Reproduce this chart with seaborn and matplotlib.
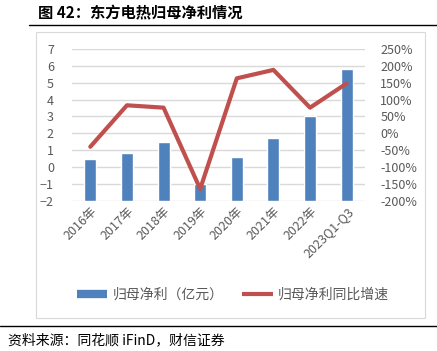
import matplotlib.pyplot as plt
import seaborn as sns
from matplotlib.lines import Line2D
from matplotlib.patches import Rectangle
from matplotlib.ticker import FuncFormatter

# 数据
years = ['2016年', '2017年', '2018年', '2019年', '2020年', '2021年', '2022年', '2023Q1-Q3']
profit = [0.46, 0.81, 1.46, -1.0, 0.58, 1.74, 3.04, 5.83]      # 归母净利（亿元）
growth = [-40, 83, 76, -165, 163, 188, 76, 148]                # 同比增速 %

sns.set_theme(style='white')
plt.rcParams['font.family'] = ['Noto Sans CJK SC', 'DejaVu Sans']

blue = '#4F81BD'
red = '#C0504D'
gray = '#595959'

W, H = 437, 351
fig = plt.figure(figsize=(W / 100, H / 100), dpi=100)

def fx(px):
    return px / W

def fy(py):
    return 1 - py / H

# 标题和线
fig.text(fx(38), fy(13), '图 42：东方电热归母净利情况', fontsize=11, fontweight='bold',
         va='center', ha='left', color='black')
fig.add_artist(Line2D([fx(29), 1], [fy(24.5), fy(24.5)], color='black', lw=1.0))
fig.add_artist(Rectangle((fx(36), fy(318)), fx(425) - fx(36), fy(32) - fy(318),
                         transform=fig.transFigure, fill=False, ec='#D9D9D9', lw=0.8))
fig.add_artist(Line2D([0, 1], [fy(326), fy(326)], color='black', lw=1.0))
fig.text(fx(8), fy(340), '资料来源：同花顺 iFinD，财信证券', fontsize=10, style='italic',
         va='center', ha='left', color='black')

ax = fig.add_axes([fx(72), fy(200.7), fx(365) - fx(72), fy(49) - fy(200.7)])
sns.barplot(x=years, y=profit, color=blue, width=0.33, ax=ax, saturation=1)
# 柱子从 -2 起画（横轴交叉点）
for p in ax.patches:
    top = p.get_y() + p.get_height()
    p.set_y(-2)
    p.set_height(top + 2)
ax.set_ylim(-2, 7)
ax.set_yticks(range(-2, 8))
ax.set_xlim(-0.5, 7.5)
ax.grid(axis='y', color='#D9D9D9', lw=1)
ax.set_axisbelow(True)
for s in ax.spines.values():
    s.set_visible(False)
ax.tick_params(axis='y', labelsize=9, labelcolor=gray, length=0, pad=13)
ax.tick_params(axis='x', labelsize=9, labelcolor=gray, length=0, pad=3)
plt.setp(ax.get_xticklabels(), rotation=45, ha='right', rotation_mode='anchor')
ax.set_xlabel('')
ax.set_ylabel('')

ax2 = ax.twinx()
sns.lineplot(x=list(range(len(years))), y=growth, color=red, lw=3, ax=ax2)
ax2.set_ylim(-200, 250)
ax2.set_yticks(range(-200, 251, 50))
ax2.yaxis.set_major_formatter(FuncFormatter(lambda v, _: f'{int(v)}%'))
ax2.tick_params(axis='y', labelsize=9, labelcolor=gray, length=0, pad=11)
for s in ax2.spines.values():
    s.set_visible(False)
ax2.grid(False)
ax2.set_xlim(-0.5, 7.5)

handles = [Line2D([], [], color=blue, lw=6, solid_capstyle='butt'),
           Line2D([], [], color=red, lw=3, solid_capstyle='butt')]
fig.legend(handles, ['归母净利（亿元）', '归母净利同比增速'], loc='center',
           bbox_to_anchor=(fx(233), fy(295)), ncol=2, frameon=False,
           fontsize=10, labelcolor=gray, handlelength=2.2, columnspacing=1.3,
           handletextpad=0.4)

fig.savefig('out.png', dpi=100)
